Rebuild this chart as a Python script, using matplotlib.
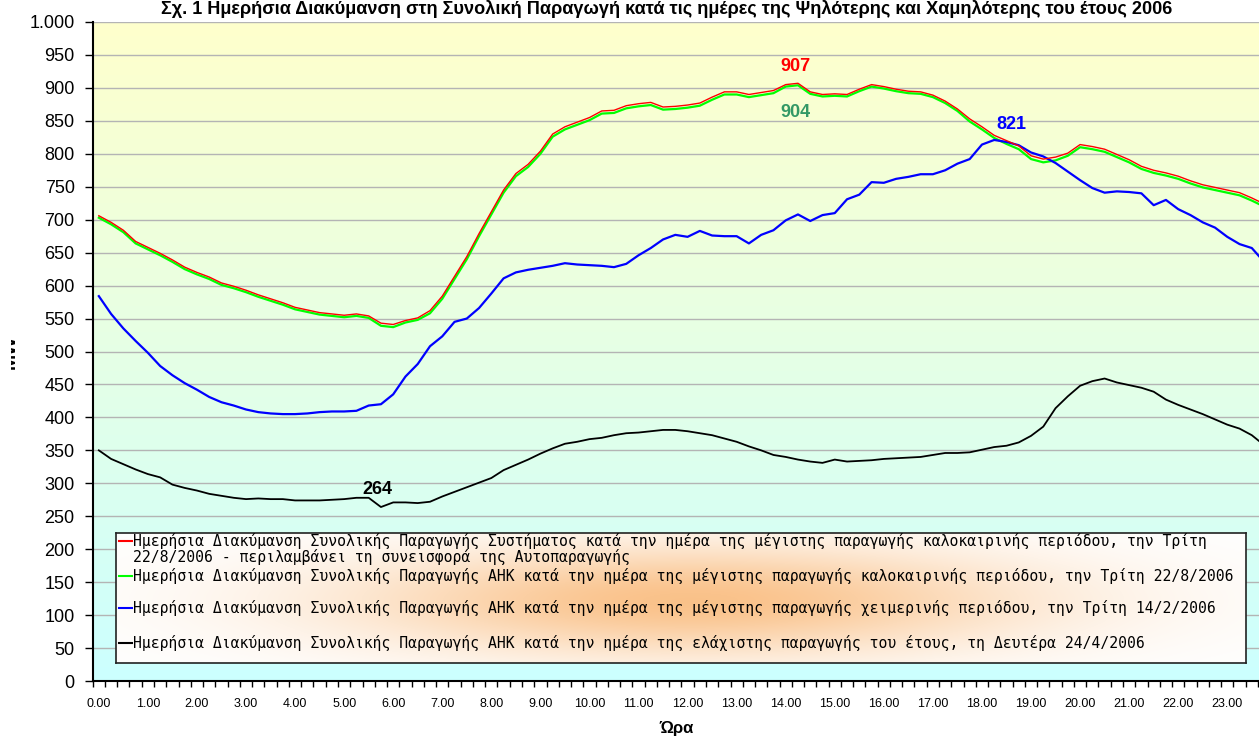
import numpy as np
import matplotlib
matplotlib.use('Agg')
import matplotlib.pyplot as plt
from matplotlib.colors import LinearSegmentedColormap
from matplotlib.lines import Line2D
from matplotlib.patches import Rectangle
from matplotlib.ticker import MultipleLocator, FixedLocator, FuncFormatter

plt.rcParams['font.family'] = ['Liberation Sans', 'DejaVu Sans']

# 15-minute steps, 0.00 .. 23.75
hours = np.arange(96) * 0.25
hour_labels = ['%d.00' % h for h in range(24)]

# summer peak day, whole system incl. self-generation (22/8/2006)
system_summer = [706, 696, 684, 667, 658, 649, 639, 628, 620, 613, 604, 599,
                 593, 586, 580, 574, 567, 563, 559, 557, 555, 557, 554, 543,
                 541, 547, 551, 562, 584, 614, 644, 679, 712, 745, 770, 784,
                 804, 830, 841, 848, 855, 865, 866, 873, 876, 878, 871, 872,
                 874, 877, 886, 894, 894, 890, 893, 896, 905, 907, 894, 890,
                 891, 890, 898, 905, 902, 898, 895, 894, 889, 880, 868, 853,
                 841, 828, 820, 812, 797, 792, 795, 801, 814, 811, 807, 799,
                 791, 781, 775, 771, 766, 759, 753, 749, 745, 741, 733, 724]
# summer peak day, AHK only
ahk_summer = [703, 693, 681, 664, 655, 646, 636, 625, 617, 610, 601, 596,
              590, 583, 577, 571, 564, 560, 556, 554, 552, 554, 551, 539,
              537, 544, 548, 558, 580, 610, 640, 675, 708, 741, 766, 780,
              800, 826, 837, 844, 851, 861, 862, 869, 872, 874, 867, 868,
              870, 873, 882, 890, 890, 886, 889, 892, 902, 904, 891, 887,
              888, 887, 895, 902, 899, 895, 892, 891, 886, 877, 865, 849,
              837, 824, 815, 807, 792, 787, 790, 797, 810, 807, 803, 795,
              787, 777, 771, 767, 762, 755, 749, 745, 741, 737, 729, 720]
# winter peak day (14/2/2006)
ahk_winter = [584, 557, 535, 516, 498, 478, 464, 452, 442, 431, 423, 418,
              412, 408, 406, 405, 405, 406, 408, 409, 409, 410, 418, 420,
              435, 462, 481, 508, 523, 545, 550, 566, 588, 611, 620, 624,
              627, 630, 634, 632, 631, 630, 628, 633, 646, 657, 670, 677,
              674, 683, 676, 675, 675, 664, 677, 684, 699, 708, 698, 707,
              710, 731, 738, 757, 756, 762, 765, 769, 769, 775, 785, 792,
              814, 821, 818, 813, 802, 796, 786, 773, 760, 748, 741, 743,
              742, 740, 722, 730, 716, 707, 696, 688, 674, 663, 657, 636]
# minimum day of the year (24/4/2006)
ahk_minimum = [350, 337, 329, 321, 314, 309, 298, 293, 289, 284, 281, 278,
               276, 277, 276, 276, 274, 274, 274, 275, 276, 278, 278, 264,
               271, 271, 270, 272, 280, 287, 294, 301, 308, 320, 328, 336,
               345, 353, 360, 363, 367, 369, 373, 376, 377, 379, 381, 381,
               379, 376, 373, 368, 363, 356, 350, 343, 340, 336, 333, 331,
               336, 333, 334, 335, 337, 338, 339, 340, 343, 346, 346, 347,
               351, 355, 357, 362, 372, 386, 414, 432, 448, 455, 459, 453,
               449, 445, 439, 427, 419, 412, 405, 397, 389, 383, 373, 358]

labels = [
    'Ημερήσια Διακύμανση Συνολικής Παραγωγής Συστήματος κατά την ημέρα της μέγιστης παραγωγής καλοκαιρινής περιόδου, την Τρίτη\n'
    '22/8/2006 - περιλαμβάνει τη συνεισφορά της Αυτοπαραγωγής',
    'Ημερήσια Διακύμανση Συνολικής Παραγωγής ΑΗΚ κατά την ημέρα της μέγιστης παραγωγής καλοκαιρινής περιόδου, την Τρίτη 22/8/2006',
    'Ημερήσια Διακύμανση Συνολικής Παραγωγής ΑΗΚ κατά την ημέρα της μέγιστης παραγωγής χειμερινής περιόδου, την Τρίτη 14/2/2006',
    'Ημερήσια Διακύμανση Συνολικής Παραγωγής ΑΗΚ κατά την ημέρα της ελάχιστης παραγωγής του έτους, τη Δευτέρα 24/4/2006',
]
title = ('Σχ. 1 Ημερήσια Διακύμανση στη Συνολική Παραγωγή κατά τις ημέρες της '
         'Ψηλότερης και Χαμηλότερης του έτους 2006')

W, H = 1259, 738
fig = plt.figure(figsize=(W / 100, H / 100), dpi=100)
fig.patch.set_facecolor('white')

# plot area runs past the right edge of the picture (cropped like the original)
ax_l, ax_r, ax_b, ax_t = 92.7, 1270.2, 681, 22
ax = fig.add_axes([ax_l / W, (H - ax_b) / H, (ax_r - ax_l) / W, (ax_b - ax_t) / H])
x0, x1 = -0.125, 23.875
ax.set_xlim(x0, x1)
ax.set_ylim(0, 1000)

bg = LinearSegmentedColormap.from_list('bg', ['#CCFFFF', '#FFFFCC'])
ax.imshow(np.linspace(0, 1, 256).reshape(-1, 1), cmap=bg, origin='lower',
          extent=[x0, x1, 0, 1000], aspect='auto', zorder=0)

ax.set_axisbelow(True)
ax.yaxis.set_major_locator(MultipleLocator(50))
ax.yaxis.set_major_formatter(FuncFormatter(lambda v, p: ('%d' % v) if v < 1000 else '{:,}'.format(int(v)).replace(',', '.')))
ax.grid(axis='y', color='#B4B4B4', lw=1.0)
ax.tick_params(axis='y', direction='out', length=6, width=1, labelsize=13, pad=7)

ax.xaxis.set_major_locator(FixedLocator(range(24)))
ax.set_xticklabels(hour_labels)
ax.xaxis.set_minor_locator(FixedLocator(np.arange(x0, x1 + 0.01, 0.25)))
ax.tick_params(axis='x', which='major', length=0, labelsize=9, pad=12)
ax.tick_params(axis='x', which='minor', direction='out', length=4, width=1)

for s in ['top', 'right']:
    ax.spines[s].set_visible(False)
ax.spines['left'].set_linewidth(1.5)
ax.spines['bottom'].set_linewidth(1.5)

ax.plot(hours, ahk_summer, color='#00FF00', lw=1.6, zorder=3)
ax.plot(hours, system_summer, color='#FF0000', lw=1.0, zorder=4)
ax.plot(hours, ahk_winter, color='#0000FF', lw=1.6, zorder=3)
ax.plot(hours, ahk_minimum, color='black', lw=1.3, zorder=3)

ax.text(14.19, 933, '907', color='#FF0000', fontsize=13, fontweight='bold', ha='center', va='center')
ax.text(14.2, 863, '904', color='#339966', fontsize=13, fontweight='bold', ha='center', va='center')
ax.text(18.6, 844, '821', color='#0000FF', fontsize=13, fontweight='bold', ha='center', va='center')
ax.text(5.68, 291, '264', color='black', fontsize=13, fontweight='bold', ha='center', va='center')

# legend box with orange glow
lg_l, lg_r, lg_t, lg_b = 116, 1246, 533, 663
lax = fig.add_axes([lg_l / W, (H - lg_b) / H, (lg_r - lg_l) / W, (lg_b - lg_t) / H])
gx, gy = np.meshgrid(np.arange(lg_l, lg_r), np.arange(lg_t, lg_b))
glow = np.exp(-(((gx - 690) / 340.0) ** 2 + ((gy - 600) / 55.0) ** 2))
white = np.array([1.0, 1.0, 1.0])
orange = np.array([0.98, 0.76, 0.54])
img = white * (1 - glow[..., None]) + orange * glow[..., None]
lax.imshow(img, extent=[0, 1, 0, 1], aspect='auto', origin='upper', zorder=0)
lax.set_xlim(0, 1)
lax.set_ylim(0, 1)
lax.set_xticks([])
lax.set_yticks([])
for s in lax.spines.values():
    s.set_linewidth(1.2)
    s.set_color('#222222')

colors = ['#FF0000', '#00FF00', '#0000FF', 'black']
rows = [541, 576, 608, 643]
bw = lg_r - lg_l
bh = lg_b - lg_t
for c, lab, row in zip(colors, labels, rows):
    yy = 1 - (row - lg_t) / bh
    lax.add_line(Line2D([(119 - lg_l) / bw, (132 - lg_l) / bw], [yy, yy], color=c, lw=1.5))
    lax.text((133 - lg_l) / bw, yy, lab, fontsize=10.67, va='top' if '\n' in lab else 'center',
             family=['DejaVu Sans Mono'], linespacing=1.0,
             transform=lax.transAxes)
# first label is two lines: re-anchor its first line on the handle
lax.texts[0].set_y(1 - (541 - 8 - lg_t) / bh)

fig.text(667 / W, 1 - 9 / H, title, ha='center', va='center', fontsize=13.1, fontweight='bold')
fig.text(677 / W, 1 - 728 / H, 'Ώρα', ha='center', va='center', fontsize=12, fontweight='bold')

ylab = fig.text(19 / W, 1 - 352 / H, 'MW', rotation=90, ha='right', va='center',
                fontsize=14, fontweight='bold')
ylab.set_clip_path(Rectangle((11, H - 372), 4, 42, transform=None))

fig.savefig('out.png', dpi=100)
